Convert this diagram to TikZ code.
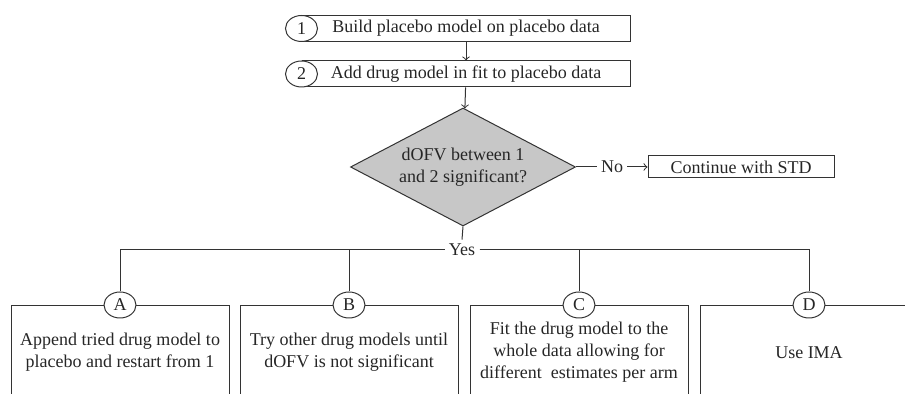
\documentclass[tikz,border=0pt]{standalone}
\usepackage{fontspec}
\setmainfont{Liberation Serif}
\usetikzlibrary{shapes.geometric}

\tikzset{
  line/.style={draw=black!80, line width=0.5pt},
  stepbox/.style={line, rectangle, inner sep=0pt, minimum width=164pt, minimum height=13pt},
  numcirc/.style={line, ellipse, fill=white, inner sep=0pt, minimum width=16pt, minimum height=13pt},
  choicebox/.style={line, rectangle, inner sep=0pt, minimum width=109pt, minimum height=47pt, align=center},
  label/.style={inner sep=2pt}
}

\begin{document}
\begin{tikzpicture}[x=0.5pt, y=-0.5pt, font=\fontsize{9}{11}\selectfont, text=black!85]
            \clip (0,0) rectangle (905,394);

            % the two fitting steps
            \node [stepbox] (step1) at (466,28.5) {Build placebo model on placebo data};
            \node [numcirc] (n1) at (step1.west) {1};
            \node [stepbox] (step2) at (466,74) {Add drug model in fit to placebo data};
            \node [numcirc] (n2) at (step2.west) {2};

            % test on dOFV
            \node [line, diamond, fill=black!22, aspect=2, inner sep=0pt, minimum width=112.5pt,
                   minimum height=59pt, align=center] (test) at (463,167)
                  {dOFV between 1\\and 2 significant?};
            \node [label] (no) at (612,167) {No};
            \node [stepbox, minimum width=93pt, minimum height=11pt] (std) at (741,167) {Continue with STD};
            \node [label] (yes) at (462,250) {Yes};

            % the four alternatives
            \node [choicebox, anchor=north] (optA) at (120,305) {Append tried drug model to\\placebo and restart from 1};
            \node [choicebox, anchor=north] (optB) at (349,305) {Try other drug models until\\dOFV is not significant};
            \node [choicebox, anchor=north] (optC) at (579,305) {Fit the drug model to the\\whole data allowing for\\different \ estimates per arm};
            \node [choicebox, anchor=north] (optD) at (809,305) {Use IMA};
            \node [numcirc] (cA) at (optA.north) {A};
            \node [numcirc] (cB) at (optB.north) {B};
            \node [numcirc] (cC) at (optC.north) {C};
            \node [numcirc] (cD) at (optD.north) {D};

            \draw [line, ->] (step1) -- (step2);
            \draw [line, ->] (step2) -- (test);
            \draw [line] (test.east) -- (no.west);
            \draw [line, ->] (no.east) -- (std.west);
            \draw [line] (test.south) -- (yes.north);
            \draw [line] (yes.west) -| (cA.north);
            \draw [line] (yes.west) -| (cB.north);
            \draw [line] (yes.east) -| (cC.north);
            \draw [line] (yes.east) -| (cD.north);
        \end{tikzpicture}
\end{document}
